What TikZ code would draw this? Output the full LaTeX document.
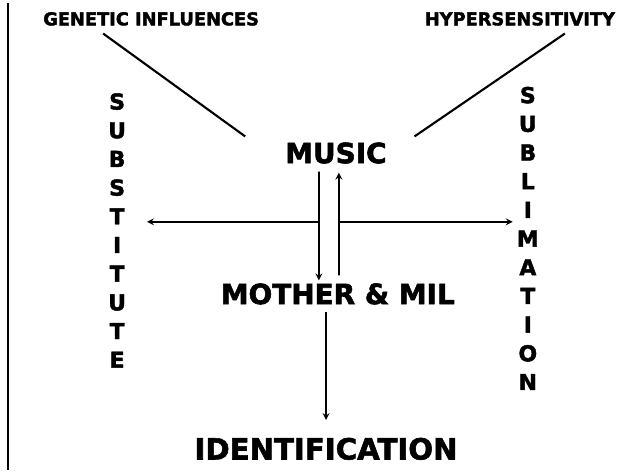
\documentclass[tikz,border=0pt]{standalone}
\usepackage{fontspec}
\setmainfont{DejaVu Sans}[BoldFeatures = {FakeBold = 2}]
\usepackage{tikz}
\usetikzlibrary{arrows, positioning}
\tikzset{
	every node/.style = {inner sep = 0pt, outer sep = 0pt},
	small/.style = {font = {\fontsize{13.4pt}{16pt}\selectfont\bfseries}},
	big/.style = {font = {\fontsize{21pt}{24pt}\selectfont\bfseries}},
	column/.style = {align = center, font = {\fontsize{16.5pt}{21.6pt}\selectfont\bfseries}},
	link/.style = {draw = black, line width = 1.6pt},
	arrow/.style = {->, > = stealth, draw = black, line width = 1.3pt},
	border/.style = {draw = black, line width = 1.4pt}
}
\begin{document}
\begin{tikzpicture}
	\useasboundingbox (0cm,0cm) rectangle (16.70cm,-12.59cm);
	
	%%%%%%%% left rule %%%%%%%%
	\draw [border] (0.21cm,-0.08cm) -- (0.21cm,-12.44cm);
	
	%%%%%%%% nodes %%%%%%%%
	% top labels
	\node (genetic) [small] at (4.00cm,-0.50cm) {GENETIC INFLUENCES};
	\node (hyper) [small] at (13.76cm,-0.50cm) {HYPERSENSITIVITY};
	% centre
	\node (music) [big] at (8.89cm,-4.05cm) {MUSIC};
	\node (mother) [big] at (8.94cm,-7.78cm) {MOTHER \& MIL};
	\node (ident) [big, font = {\fontsize{22pt}{24pt}\selectfont\bfseries}] at (8.63cm,-11.88cm) {IDENTIFICATION};
	% side columns
	\node (substitute) [column] at (3.10cm,-6.10cm) {S\\U\\B\\S\\T\\I\\T\\U\\T\\E};
	\node (sublimation) [column] at (13.97cm,-6.31cm) {S\\U\\B\\L\\I\\M\\A\\T\\I\\O\\N};
	% free ends of the cross
	\coordinate (lefttip) at (3.89cm,-5.87cm);
	\coordinate (righttip) at (13.57cm,-5.87cm);
	
	%%% connectors %%%
	\draw [link] ([xshift=-1.27cm, yshift=-0.21cm]genetic.south) -- ([xshift=-1.06cm, yshift=0.16cm]music.north west);
	\draw [link] ([xshift=1.19cm, yshift=-0.21cm]hyper.south) -- ([xshift=0.74cm, yshift=0.16cm]music.north east);
	
	\draw [arrow] ([xshift=-0.45cm, yshift=-0.21cm]music.south) -- ([xshift=-0.50cm, yshift=0.08cm]mother.north);
	\draw [arrow] ([xshift=0.03cm, yshift=0.21cm]mother.north) -- ([xshift=0.08cm, yshift=-0.24cm]music.south);
	
	\draw [arrow] ([xshift=-0.45cm]music.south |- lefttip) -- (lefttip);
	\draw [arrow] ([xshift=0.08cm]music.south |- righttip) -- (righttip);
	
	\draw [arrow] ([yshift=-0.21cm]mother.south -| ident.north) -- ([yshift=0.47cm]ident.north);
\end{tikzpicture}
\end{document}
